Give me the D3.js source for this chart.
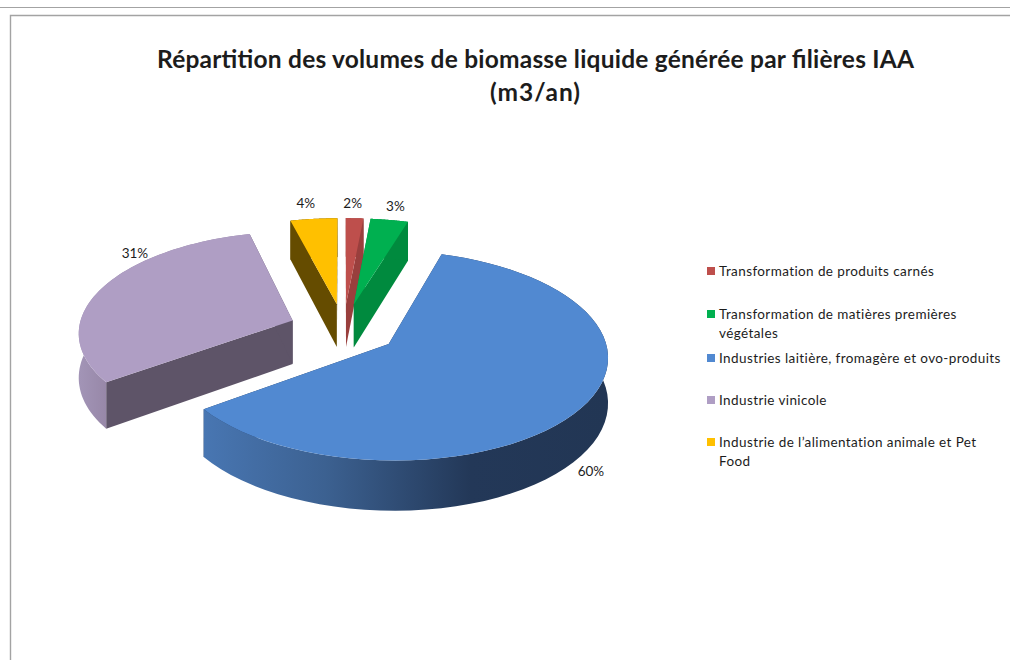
<!DOCTYPE html>
<html><head><meta charset="utf-8">
<script src="https://cdn.jsdelivr.net/npm/d3@7/dist/d3.min.js"></script>
<style>html,body{margin:0;padding:0;background:#fff}svg{display:block}text{font-family:Lato,"Open Sans",sans-serif;fill:#1c1c1c}</style>
</head><body><svg id="c" width="1010" height="660"></svg>
<script>
const titleLines = ["Répartition des volumes de biomasse liquide générée par filières IAA", "(m3/an)"];
const categories = ["Transformation de produits carnés","Transformation de matières premières végétales","Industries laitière, fromagère et ovo-produits","Industrie vinicole","Industrie de l’alimentation animale et Pet Food"];
const legendLines = [["Transformation de produits carnés"],["Transformation de matières premières","végétales"],["Industries laitière, fromagère et ovo-produits"],["Industrie vinicole"],["Industrie de l’alimentation animale et Pet","Food"]];
const values = [1.5,3.2,60.3,31,4];
const labels = ["2%","3%","60%","31%","4%"];
const topColors = ["#BE4F4C","#00B050","#5189D1","#AF9EC4","#FFC000"];
const wallColors = ["#993F3D","#008A3E","#233858","#5E5468","#654C00"];

const svg = d3.select("#c");
const cx=343.5, cy=329, R=214, tilt=0.469, persp=0.108, depth=44, explode=0.255;
const labelNudge=[[-2,-15],[6,-13],[10,15],[33,-35],[-8,-15]];
const legendY=[271,314,358,400,442];

svg.append("line").attr("x1",0).attr("x2",1010).attr("y1",7.5).attr("y2",7.5).attr("stroke","#a3a3a3");
svg.append("path").attr("d","M10.5,660V15.5H1010").attr("fill","none").attr("stroke","#a3a3a3").attr("stroke-width",1.4);

const title = svg.append("g").attr("text-anchor","middle").style("font-weight",700);
title.append("text").attr("x",535.5).attr("y",68).attr("font-size",24.5).attr("textLength",757).attr("lengthAdjust","spacing").text(titleLines[0]);
title.append("text").attr("x",535).attr("y",101).attr("font-size",24.5).attr("textLength",90).attr("lengthAdjust","spacing").text(titleLines[1]);

const arcs = d3.pie().sort(null).startAngle(0).endAngle(2*Math.PI)(values);
function proj(X,Y,z=0){const f=1/(1+persp*Y);return [cx+R*X*f, cy-R*tilt*Y*f+z*depth*f];}
function rimPoint(a,d,t,z=0){
  const mid=(d.startAngle+d.endAngle)/2;
  return proj(explode*Math.sin(mid)+t*Math.sin(a), explode*Math.cos(mid)+t*Math.cos(a), z);
}
const line=d3.line();
const defs=svg.append("defs");
function grad(id,x1,x2,stops){
  const g=defs.append("linearGradient").attr("id",id).attr("gradientUnits","userSpaceOnUse").attr("x1",x1).attr("x2",x2).attr("y1",0).attr("y2",0);
  stops.forEach(s=>g.append("stop").attr("offset",s[0]).attr("stop-color",s[1]));
}
grad("rim2",204,607,[[0,"#4876B2"],[0.3,"#3C6191"],[0.66,"#233858"],[1,"#223654"]]);
grad("rim3",80,110,[[0,"#A294B6"],[1,"#9686A6"]]);
const rimFill=[wallColors[0],wallColors[1],"url(#rim2)","url(#rim3)",wallColors[4]];

const order=[4,0,1,3,2];
order.forEach(i=>{
  const d=arcs[i], g=svg.append("g");
  const angles=d3.range(0,61).map(k=>d.startAngle+(d.endAngle-d.startAngle)*k/60);
  const wall=(a)=>[rimPoint(a,d,0),rimPoint(a,d,1),rimPoint(a,d,1,1),rimPoint(a,d,0,1)];
  [d.startAngle,d.endAngle].forEach(a=>g.append("path").attr("d",line(wall(a))+"Z").attr("fill",wallColors[i]));
  const top=angles.map(a=>rimPoint(a,d,1));
  const bottom=angles.map(a=>rimPoint(a,d,1,1)).reverse();
  g.append("path").attr("d",line(top.concat(bottom))+"Z").attr("fill",rimFill[i]);
  g.append("path").attr("d",line([rimPoint(0,d,0)].concat(top))+"Z").attr("fill",topColors[i]);
});

const lab=svg.append("g").attr("text-anchor","middle").attr("font-size",13.5);
arcs.forEach((d,i)=>{
  const p=rimPoint((d.startAngle+d.endAngle)/2,d,1,i===2?1:0);
  lab.append("text").attr("x",p[0]+labelNudge[i][0]).attr("y",p[1]+labelNudge[i][1]+4.5).text(labels[i]);
});

const leg=svg.append("g").attr("font-size",13.5).attr("letter-spacing",0.4);
legendLines.forEach((ls,i)=>{
  const y=legendY[i];
  leg.append("rect").attr("x",707).attr("y",y-4).attr("width",8).attr("height",8).attr("fill",topColors[i]);
  ls.forEach((t,j)=>leg.append("text").attr("x",719).attr("y",y+4.5+j*19).text(t));
});
</script></body></html>
